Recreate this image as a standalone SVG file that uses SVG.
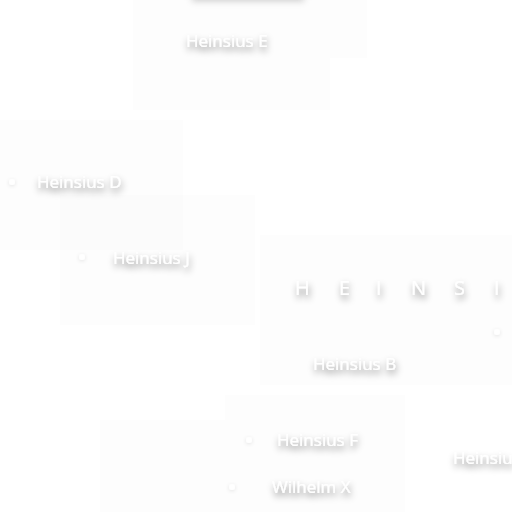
<svg xmlns="http://www.w3.org/2000/svg" width="512" height="512" viewBox="0 0 512 512">
<defs>
<filter id="sh" x="-20%" y="-60%" width="140%" height="240%">
<feGaussianBlur in="SourceAlpha" stdDeviation="3.5" result="b"/>
<feOffset in="b" dx="1" dy="4" result="o"/>
<feComponentTransfer in="o" result="s"><feFuncA type="linear" slope="0.5"/></feComponentTransfer>
<feMerge><feMergeNode in="s"/><feMergeNode in="SourceGraphic"/></feMerge>
</filter>
<filter id="shd" x="-100%" y="-100%" width="300%" height="300%">
<feGaussianBlur in="SourceAlpha" stdDeviation="2" result="b"/>
<feOffset in="b" dx="0" dy="1" result="o"/>
<feComponentTransfer in="o" result="s"><feFuncA type="linear" slope="0.12"/></feComponentTransfer>
<feMerge><feMergeNode in="s"/><feMergeNode in="SourceGraphic"/></feMerge>
</filter>
<filter id="bl" x="-20%" y="-100%" width="140%" height="300%"><feGaussianBlur stdDeviation="3.5"/></filter>
</defs>
<style>
.p{fill:#000;fill-opacity:0.006}
.t{font-family:"Open Sans","DejaVu Sans",sans-serif;font-size:17px;fill:#fff;filter:url(#sh)}
.big{font-family:"Open Sans","DejaVu Sans",sans-serif;font-size:20px;fill:#fff;filter:url(#sh)}
.d{fill:#fff;filter:url(#shd)}
</style>
<rect width="512" height="512" fill="#fff"/>
<g id="panels">
<rect class="p" x="133" y="0" width="234" height="58"/>
<rect class="p" x="133" y="58" width="197" height="52"/>
<rect class="p" x="0" y="120" width="183" height="130"/>
<rect class="p" x="60" y="195" width="195" height="130"/>
<rect class="p" x="260" y="235" width="252" height="150"/>
<rect class="p" x="225" y="395" width="180" height="117"/>
<rect class="p" x="100" y="420" width="125" height="92"/>
</g>
<g id="top"><rect x="192" y="-8" width="112" height="9" fill="#000" fill-opacity="0.2" filter="url(#bl)"/></g>
<g id="nE"><text class="t" x="186" y="47">Heinsius E</text></g>
<g id="nD"><circle class="d" cx="12" cy="182" r="3"/><text class="t" x="37" y="188">Heinsius D</text></g>
<g id="nJ"><circle class="d" cx="82" cy="257" r="3"/><text class="t" x="113" y="264">Heinsius J</text></g>
<g id="title"><text class="big" x="295 339 376 411 454 494" y="295">HEINSI</text><circle class="d" cx="497" cy="332" r="3"/></g>
<g id="nB"><text class="t" x="313" y="370">Heinsius B</text></g>
<g id="nF"><circle class="d" cx="249" cy="440" r="3"/><text class="t" x="277" y="446">Heinsius F</text></g>
<g id="nX"><circle class="d" cx="232" cy="487" r="3"/><text class="t" x="272" y="493">Wilhelm X</text></g>
<g id="nR"><text class="t" x="453" y="464">Heinsiu</text></g>
<g id="connectors"></g>
</svg>
